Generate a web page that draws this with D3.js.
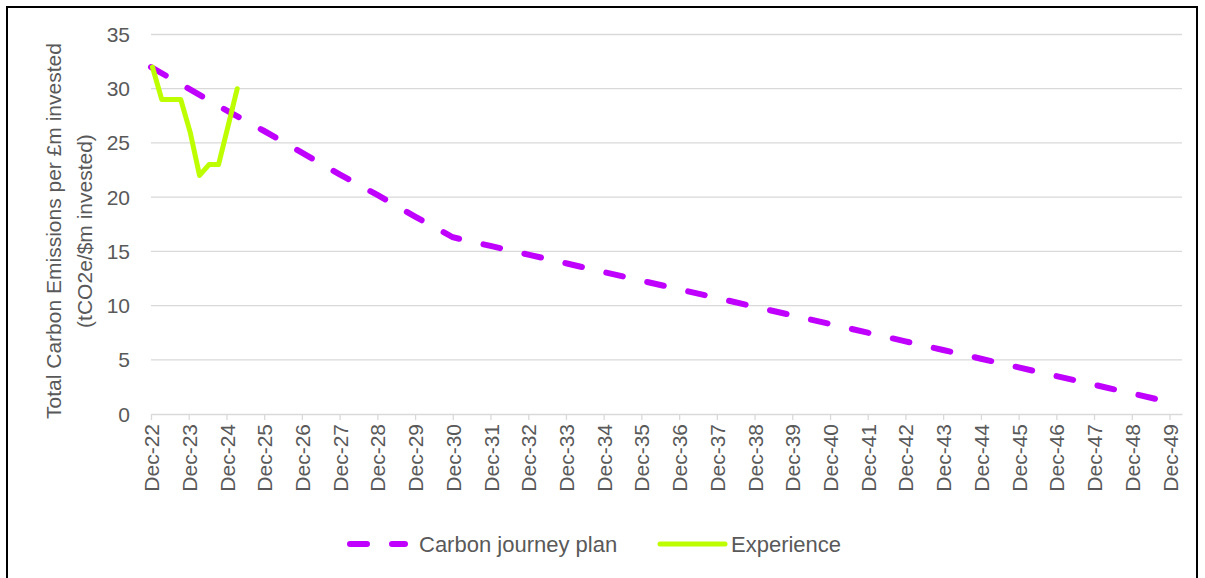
<!DOCTYPE html>
<html>
<head>
<meta charset="utf-8">
<script src="https://cdn.jsdelivr.net/npm/d3@7"></script>
<style>
  body { margin: 0; background: #fff; }
  text { font-family: "Liberation Sans", Arial, sans-serif; fill: #595959; }
</style>
</head>
<body>
<div id="chart"></div>
<script>
// tick labels on the x axis (one per year, December)
var yearTicks = ["2022-12-01","2023-12-01","2024-12-01","2025-12-01","2026-12-01","2027-12-01","2028-12-01",
  "2029-12-01","2030-12-01","2031-12-01","2032-12-01","2033-12-01","2034-12-01","2035-12-01","2036-12-01",
  "2037-12-01","2038-12-01","2039-12-01","2040-12-01","2041-12-01","2042-12-01","2043-12-01","2044-12-01",
  "2045-12-01","2046-12-01","2047-12-01","2048-12-01","2049-12-01"];

// Carbon journey plan (year end values)
var planDates = yearTicks;
var planValues = [32.0, 30.0, 28.0, 26.1, 24.1, 22.1, 20.2, 18.2, 16.3, 15.5, 14.7, 13.9, 13.1, 12.3,
  11.5, 10.7, 9.9, 9.1, 8.3, 7.5, 6.7, 5.9, 5.1, 4.3, 3.5, 2.7, 1.9, 1.1];

// Experience (quarterly)
var expDates = ["2022-12-15","2023-03-15","2023-06-15","2023-09-15","2023-12-15","2024-03-15",
  "2024-06-15","2024-09-15","2024-12-15","2025-03-15"];
var expValues = [32, 29, 29, 29, 26, 22, 23, 23, 26.5, 30];

var yTicks = [0, 5, 10, 15, 20, 25, 30, 35];
var seriesNames = ["Carbon journey plan", "Experience"];
var colors = ["#c000ff", "#bdff00"];

var width = 1205, height = 578;
var parse = d3.timeParse("%Y-%m-%d");
var fmt = d3.timeFormat("%b-%y");

var svg = d3.select("#chart").append("svg")
  .attr("width", width).attr("height", height);

svg.append("rect")
  .attr("x", 7).attr("y", 7).attr("width", 1190).attr("height", 620)
  .attr("fill", "none").attr("stroke", "#000").attr("stroke-width", 2);

var x = d3.scaleTime()
  .domain([parse("2022-12-01"), parse("2050-04-01")])
  .range([151, 1182]);
var y = d3.scaleLinear().domain([0, 35]).range([414, 34.5]);

// gridlines
svg.append("g").selectAll("line")
  .data(yTicks.slice(1))
  .join("line")
  .attr("x1", x.range()[0]).attr("x2", x.range()[1])
  .attr("y1", d => y(d)).attr("y2", d => y(d))
  .attr("stroke", "#d9d9d9").attr("stroke-width", 1.3);

// y labels
svg.append("g").selectAll("text")
  .data(yTicks)
  .join("text")
  .attr("x", 130).attr("y", d => y(d))
  .attr("dy", "0.36em")
  .attr("text-anchor", "end")
  .style("font-size", "21px")
  .text(d => d);

// x axis
var xAxis = svg.append("g")
  .attr("transform", "translate(0," + y(0) + ")")
  .call(d3.axisBottom(x)
    .tickValues(yearTicks.map(parse))
    .tickFormat(fmt)
    .tickSize(6)
    .tickSizeOuter(0));
xAxis.select(".domain").attr("stroke", "#d9d9d9").attr("stroke-width", 1.3);
xAxis.selectAll(".tick line").attr("stroke", "#d9d9d9").attr("stroke-width", 1.3);
xAxis.selectAll(".tick text")
  .attr("fill", "#595959")
  .style("font-size", "21px")
  .style("font-family", "Liberation Sans, Arial, sans-serif")
  .attr("text-anchor", "end")
  .attr("transform", "translate(0,10) rotate(-90)")
  .attr("x", 0).attr("y", 0).attr("dy", "0.36em");

// y title
var title = svg.append("text")
  .attr("transform", "translate(54,231) rotate(-90)")
  .attr("text-anchor", "middle")
  .style("font-size", "21px");
title.append("tspan").attr("x", 0).attr("dy", "0.35em").text("Total Carbon Emissions per £m invested");
title.append("tspan").attr("x", 0).attr("dy", "1.45em").text("(tCO2e/$m invested)");

var line = d3.line().x(d => x(d[0])).y(d => y(d[1]));

var planData = planDates.map((d, i) => [parse(d), planValues[i]]);
var expData = expDates.map((d, i) => [parse(d), expValues[i]]);

svg.append("path")
  .datum(planData)
  .attr("d", line)
  .attr("fill", "none")
  .attr("stroke", colors[0])
  .attr("stroke-width", 6)
  .attr("stroke-linecap", "round")
  .attr("stroke-dasharray", "17,25");

svg.append("path")
  .datum(expData)
  .attr("d", line)
  .attr("fill", "none")
  .attr("stroke", colors[1])
  .attr("stroke-width", 5)
  .attr("stroke-linejoin", "round")
  .attr("stroke-linecap", "round");

// legend
var lg = svg.append("g");
lg.append("line")
  .attr("x1", 350).attr("x2", 405).attr("y1", 544).attr("y2", 544)
  .attr("stroke", colors[0]).attr("stroke-width", 6)
  .attr("stroke-linecap", "round").attr("stroke-dasharray", "17,25");
lg.append("text")
  .attr("x", 419).attr("y", 544).attr("dy", "0.36em")
  .style("font-size", "22px")
  .text(seriesNames[0]);
lg.append("line")
  .attr("x1", 660).attr("x2", 725).attr("y1", 544).attr("y2", 544)
  .attr("stroke", colors[1]).attr("stroke-width", 5)
  .attr("stroke-linecap", "round");
lg.append("text")
  .attr("x", 731).attr("y", 544).attr("dy", "0.36em")
  .style("font-size", "22px")
  .text(seriesNames[1]);
</script>
</body>
</html>
